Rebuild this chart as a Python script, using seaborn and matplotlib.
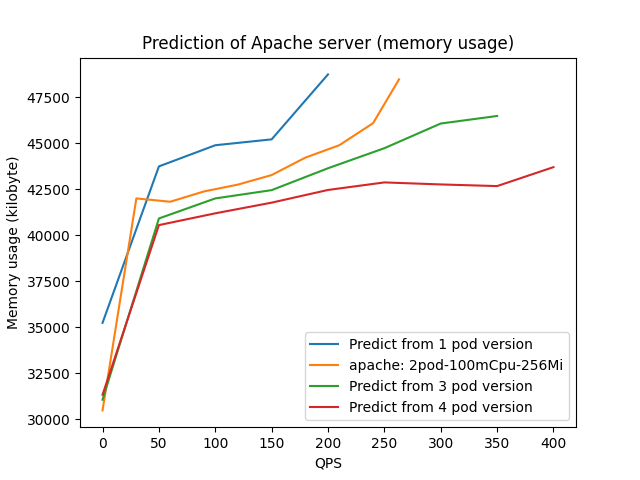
import numpy as np
import pandas as pd
import matplotlib
matplotlib.use("Agg")
import matplotlib.pyplot as plt
import seaborn as sns

# values
qps_1pod = [0, 50, 100, 150, 200]
mem_1pod = [35250, 43750, 44900, 45220, 48750]

qps_2pod = [0, 30, 60, 90, 120, 150, 180, 210, 240, 263]
mem_2pod = [30490, 42010, 41830, 42390, 42760, 43280, 44230, 44900, 46100, 48480]

qps_3pod = [0, 50, 100, 150, 200, 250, 300, 350]
mem_3pod = [31070, 40920, 42010, 42460, 43650, 44740, 46080, 46490]

qps_4pod = [0, 50, 100, 150, 200, 250, 300, 350, 400]
mem_4pod = [31340, 40560, 41200, 41780, 42470, 42880, 42770, 42680, 43710]

labels = ["Predict from 1 pod version",
          "apache: 2pod-100mCpu-256Mi",
          "Predict from 3 pod version",
          "Predict from 4 pod version"]

frames = []
for lab, q, m in zip(labels, [qps_1pod, qps_2pod, qps_3pod, qps_4pod],
                     [mem_1pod, mem_2pod, mem_3pod, mem_4pod]):
    frames.append(pd.DataFrame({"QPS": q, "mem": m, "series": lab}))
df = pd.concat(frames, ignore_index=True)

fig, ax = plt.subplots(figsize=(6.4, 4.8), dpi=100)
sns.lineplot(data=df, x="QPS", y="mem", hue="series", hue_order=labels,
             palette=sns.color_palette("tab10", 4), sort=False,
             estimator=None, linewidth=1.5, ax=ax)

ax.set_title("Prediction of Apache server (memory usage)")
ax.set_xlabel("QPS")
ax.set_ylabel("Memory usage (kilobyte)")
ax.legend(loc="lower right", title=None)

fig.savefig("out.png")
